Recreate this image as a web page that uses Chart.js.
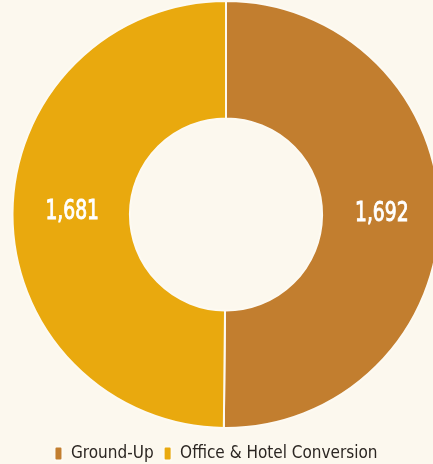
<!DOCTYPE html>
<html>
<head>
<meta charset="utf-8">
<script src="https://cdn.jsdelivr.net/npm/chart.js@4"></script>
<style>
  html, body { margin: 0; padding: 0; background: #fcf8ee; overflow: hidden; }
  #wrap { position: absolute; left: 0; top: 0; width: 452px; height: 466px; }
</style>
</head>
<body>
<div id="wrap"><canvas id="dona"></canvas></div>
<script>
// datos del gráfico
const categorias = ["Ground-Up", "Office & Hotel Conversion"];
const valores = [1692, 1681];
const colores = ["#c27e2f", "#e9a90e"];

const fuente = "'DejaVu Sans Condensed', 'DejaVu Sans', sans-serif";

// etiquetas blancas en el centro de cada arco (un poco estrechas)
const etiquetasArco = {
  id: "etiquetasArco",
  afterDatasetsDraw(chart) {
    const ctx = chart.ctx;
    const meta = chart.getDatasetMeta(0);
    meta.data.forEach((arc, i) => {
      const p = arc.tooltipPosition();
      const texto = valores[i].toLocaleString("en-US");
      ctx.save();
      ctx.translate(p.x + 1, p.y - 1);
      ctx.scale(0.8, 1);
      ctx.fillStyle = "#ffffff";
      ctx.strokeStyle = "#ffffff";
      ctx.lineWidth = 0.9;
      ctx.font = "26px " + fuente;
      ctx.textAlign = "center";
      ctx.textBaseline = "middle";
      ctx.fillText(texto, 0, 0);
      ctx.strokeText(texto, 0, 0);
      ctx.restore();
    });
  }
};

// mover la leyenda un poco a la izquierda y abajo
const moverLeyenda = {
  id: "moverLeyenda",
  afterLayout(chart) {
    chart.legend.left -= 10;
    chart.legend.right -= 10;
    chart.legend.top += 6;
    chart.legend.bottom += 6;
  }
};

new Chart(document.getElementById("dona"), {
  type: "doughnut",
  data: {
    labels: categorias,
    datasets: [{
      data: valores,
      backgroundColor: colores,
      borderColor: "#fdfaf2",
      borderWidth: 2
    }]
  },
  options: {
    responsive: true,
    maintainAspectRatio: false,
    animation: false,
    cutout: "45%",
    layout: { padding: 0 },
    plugins: {
      legend: {
        position: "bottom",
        labels: {
          boxWidth: 8,
          boxHeight: 14,
          useBorderRadius: true,
          borderRadius: 2,
          padding: 10,
          color: "#2b2622",
          font: { family: fuente, size: 17 }
        }
      },
      tooltip: { enabled: false }
    }
  },
  plugins: [etiquetasArco, moverLeyenda]
});
</script>
</body>
</html>
